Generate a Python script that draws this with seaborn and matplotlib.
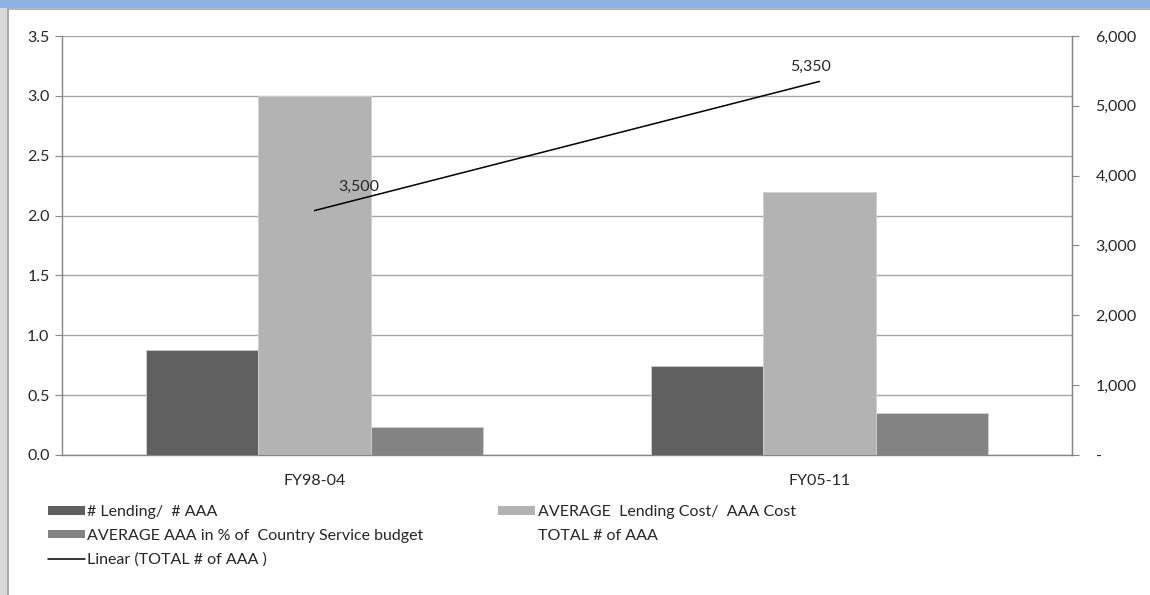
import matplotlib
matplotlib.use("Agg")
import matplotlib.pyplot as plt
import seaborn as sns
import pandas as pd
from matplotlib.patches import Patch, Rectangle
from matplotlib.lines import Line2D
from matplotlib.ticker import FuncFormatter

# Datos
periodos = ["FY98-04", "FY05-11"]
series = ["# Lending/  # AAA", "AVERAGE  Lending Cost/  AAA Cost",
          "AVERAGE AAA in % of  Country Service budget"]
lending_aaa = [0.88, 0.74]
avg_cost = [3.0, 2.2]
avg_budget = [0.23, 0.35]
total_aaa = [3500, 5350]

cores = ["#606060", "#b3b3b3", "#838383"]
fs = 11.5

df = pd.DataFrame({
    "periodo": periodos * 3,
    "serie": [series[0]] * 2 + [series[1]] * 2 + [series[2]] * 2,
    "valor": lending_aaa + avg_cost + avg_budget,
})

sns.set_style("white")
plt.rcParams["font.family"] = ["Lato", "DejaVu Sans"]

fig = plt.figure(figsize=(11.5, 5.95), dpi=100)
ax = fig.add_axes([62 / 1150, 140 / 595, 1010 / 1150, 419 / 595])

sns.barplot(data=df, x="periodo", y="valor", hue="serie", order=periodos,
            hue_order=series, palette=cores, width=0.667, gap=0,
            edgecolor="#d0d0d0", linewidth=0.6, ax=ax, zorder=3)
ax.get_legend().remove()

ax.set_xlim(-0.5, 1.5)
ax.set_ylim(0, 3.5)
ax.set_yticks([0, 0.5, 1, 1.5, 2, 2.5, 3, 3.5])
ax.yaxis.set_major_formatter(FuncFormatter(lambda v, p: f"{v:.1f}"))
ax.grid(axis="y", color="#a6a6a6", linewidth=1, zorder=0)
ax.set_axisbelow(True)
ax.set_xlabel("")
ax.set_ylabel("")
ax.set_xticks([0, 1])
ax.set_xticks([-0.5, 0.5, 1.5], minor=True)
ax.tick_params(axis="x", which="major", length=0, pad=14, labelsize=fs)
ax.tick_params(axis="x", which="minor", length=8, direction="inout",
               color="#868686", width=1)
ax.tick_params(axis="y", which="major", length=5, direction="out",
               color="#868686", labelsize=fs, pad=4, left=True)
for s in ["left", "bottom", "right"]:
    ax.spines[s].set_color("#868686")
    ax.spines[s].set_linewidth(1)
ax.spines["top"].set_visible(False)

# Eixo secundário com a linha de tendência
ax2 = ax.twinx()
sns.lineplot(x=list(range(len(periodos))), y=total_aaa, color="black",
             linewidth=1.1, ax=ax2, zorder=5)
ax2.set_ylim(0, 6000)
ax2.set_yticks(range(0, 6001, 1000))
ax2.yaxis.set_major_formatter(
    FuncFormatter(lambda v, p: "-" if v == 0 else f"{int(v):,}"))
ax2.tick_params(axis="y", length=5, direction="out", color="#868686",
                labelsize=fs, pad=12, right=True)
for s in ax2.spines.values():
    s.set_visible(False)
ax2.spines["right"].set_visible(True)
ax2.spines["right"].set_color("#868686")

ax2.annotate(f"{total_aaa[0]:,}", (0, total_aaa[0]), xytext=(44, 24),
             textcoords="offset pixels", ha="center", va="center", fontsize=fs)
ax2.annotate(f"{total_aaa[1]:,}", (1, total_aaa[1]), xytext=(-9, 15),
             textcoords="offset pixels", ha="center", va="center", fontsize=fs)

# Legenda
handles = [
    Patch(facecolor=cores[0], edgecolor="none", label=series[0]),
    Patch(facecolor=cores[2], edgecolor="none", label=series[2]),
    Line2D([], [], color="black", linewidth=1.1, label="Linear (TOTAL # of AAA )"),
    Patch(facecolor=cores[1], edgecolor="none", label=series[1]),
    Patch(facecolor="none", edgecolor="none", label="TOTAL # of AAA"),
]
fig.legend(handles=handles, loc="upper left", bbox_to_anchor=(48 / 1150, 1 - 505 / 595),
           ncol=2, frameon=False, fontsize=fs, handlelength=2.3, handleheight=0.45,
           handletextpad=0.15, columnspacing=4.7, labelspacing=0.6,
           borderaxespad=0, borderpad=0)

# Moldura
fig.patches.append(Rectangle((0, 1 - 8 / 595), 1, 8 / 595, transform=fig.transFigure,
                             facecolor="#8db3e2", edgecolor="none", zorder=0))
fig.patches.append(Rectangle((0, 1 - 10 / 595), 1, 2 / 595, transform=fig.transFigure,
                             facecolor="#b5b5b5", edgecolor="none", zorder=0))
fig.patches.append(Rectangle((0, 0), 7 / 1150, 1 - 8 / 595, transform=fig.transFigure,
                             facecolor="#d9d9d9", edgecolor="none", zorder=0))
fig.patches.append(Rectangle((7 / 1150, 0), 2 / 1150, 1 - 8 / 595, transform=fig.transFigure,
                             facecolor="#a8a8a8", edgecolor="none", zorder=0))

fig.savefig("out.png", dpi=100)
